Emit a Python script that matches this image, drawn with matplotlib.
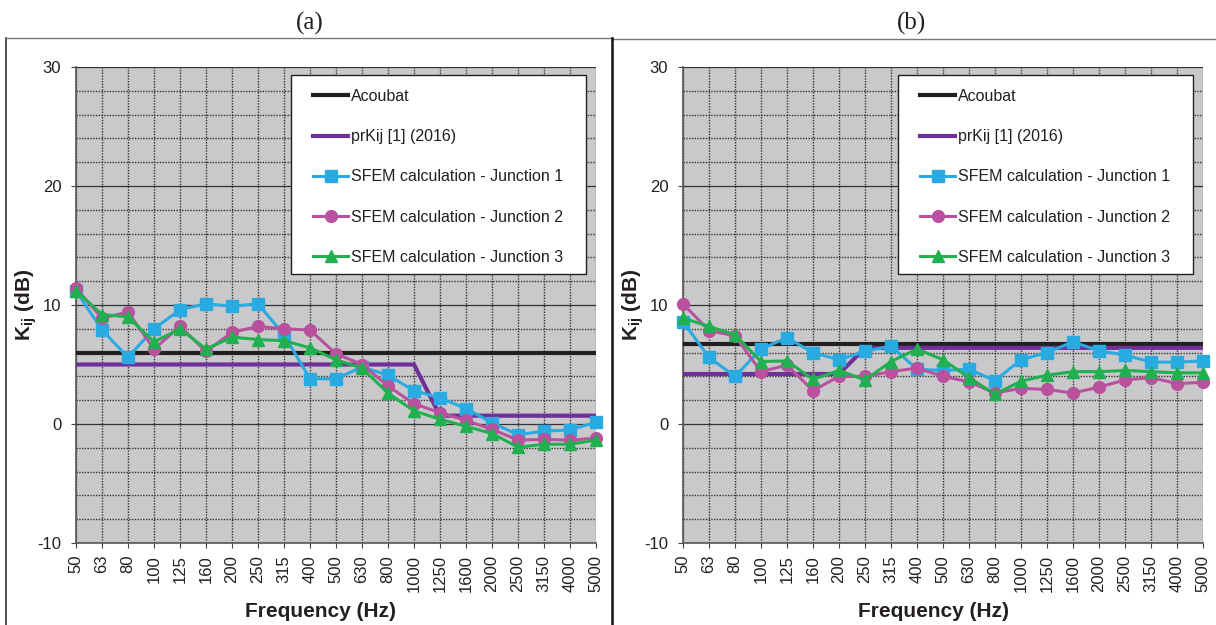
import matplotlib.pyplot as plt
from matplotlib.ticker import MultipleLocator
from matplotlib.lines import Line2D
from matplotlib.patches import Rectangle

plt.rcParams['font.family'] = ['Liberation Sans', 'DejaVu Sans']
plt.rcParams['mathtext.fontset'] = 'custom'
plt.rcParams['mathtext.rm'] = 'Liberation Sans'
plt.rcParams['mathtext.bf'] = 'Liberation Sans:bold'
plt.rcParams['axes.unicode_minus'] = False

# third-octave bands
freqs = ['50', '63', '80', '100', '125', '160', '200', '250', '315', '400', '500',
         '630', '800', '1000', '1250', '1600', '2000', '2500', '3150', '4000', '5000']

# panel (a)
acoubat_a = [6.0] * 21
prkij_a = [5.0] * 14 + [0.7] * 7
j1_a = [11.2, 7.9, 5.6, 8.0, 9.6, 10.1, 9.9, 10.1, 7.5, 3.8, 3.8,
        4.8, 4.1, 2.8, 2.2, 1.3, 0.1, -0.9, -0.6, -0.5, 0.15]
j2_a = [11.4, 8.9, 9.4, 6.3, 8.2, 6.1, 7.7, 8.2, 8.0, 7.9, 5.9,
        5.0, 3.2, 1.7, 0.95, 0.3, -0.45, -1.35, -1.3, -1.35, -1.2]
j3_a = [11.2, 9.2, 9.0, 6.9, 8.0, 6.3, 7.3, 7.1, 7.0, 6.4, 5.4,
        4.7, 2.6, 1.1, 0.4, -0.2, -0.8, -1.95, -1.7, -1.7, -1.35]

# panel (b)
acoubat_b = [6.7] * 21
prkij_b = [4.2] * 7 + [6.4] * 14
j1_b = [8.6, 5.6, 4.0, 6.3, 7.25, 6.0, 5.4, 6.1, 6.55, 4.6, 4.5,
        4.6, 3.65, 5.4, 6.0, 6.9, 6.15, 5.8, 5.2, 5.2, 5.3]
j2_b = [10.1, 7.85, 7.4, 4.4, 4.95, 2.8, 4.0, 4.0, 4.4, 4.7, 4.0,
        3.55, 2.6, 3.0, 2.9, 2.6, 3.1, 3.7, 3.9, 3.4, 3.5]
j3_b = [8.9, 8.2, 7.5, 5.25, 5.3, 3.75, 4.5, 3.7, 5.25, 6.3, 5.4,
        3.9, 2.5, 3.6, 4.1, 4.4, 4.4, 4.5, 4.4, 4.3, 4.3]

W, H = 1216, 625
fig = plt.figure(figsize=(W / 100, H / 100), dpi=100)


def px_rect(x0, y0, x1, y1):
    return [x0 / W, 1 - y1 / H, (x1 - x0) / W, (y1 - y0) / H]


DARK = '#231f20'
C_BLUE = '#29abe2'
C_PINK = '#b9519f'
C_GREEN = '#21b04f'
C_PURPLE = '#6f3198'


def draw_panel(ax, acoubat, prkij, j1, j2, j3, xlabel_x):
    x = list(range(len(freqs)))
    ax.set_facecolor('#c9c9cb')
    ax.plot(x, acoubat, color=DARK, lw=3, label='Acoubat', zorder=3)
    ax.plot(x, prkij, color=C_PURPLE, lw=3, label='prKij [1] (2016)', zorder=3)
    ax.plot(x, j1, color=C_BLUE, lw=2.2, marker='s', ms=8.5,
            label='SFEM calculation - Junction 1', zorder=4, clip_on=False)
    ax.plot(x, j2, color=C_PINK, lw=2.2, marker='o', ms=8.5,
            label='SFEM calculation - Junction 2', zorder=4, clip_on=False)
    ax.plot(x, j3, color=C_GREEN, lw=2.2, marker='^', ms=9,
            label='SFEM calculation - Junction 3', zorder=4, clip_on=False)

    ax.set_xlim(0, len(freqs) - 1)
    ax.set_ylim(-10, 30)
    ax.set_xticks(x)
    ax.set_xticklabels(freqs, rotation=90)
    ax.yaxis.set_major_locator(MultipleLocator(10))
    ax.yaxis.set_minor_locator(MultipleLocator(2))
    ax.tick_params(axis='both', which='major', labelsize=12, length=3.6,
                   color='#444444', labelcolor=DARK)
    ax.tick_params(axis='y', which='major', pad=7)
    ax.tick_params(axis='x', which='major', pad=5)
    ax.tick_params(axis='y', which='minor', length=0)

    ax.set_axisbelow(True)
    ax.grid(axis='x', which='major', ls=(0, (1, 1)), color='#333333', lw=1.0)
    ax.grid(axis='y', which='minor', ls=(0, (1, 1)), color='#333333', lw=1.0)
    ax.grid(axis='y', which='major', ls='-', color='#333333', lw=0.9)

    for side in ('top', 'right'):
        ax.spines[side].set_visible(False)
    for side in ('left', 'bottom'):
        ax.spines[side].set_color('#555555')
        ax.spines[side].set_linewidth(1.2)

    ax.set_xlabel('Frequency (Hz)', fontsize=15, fontweight='bold', color=DARK)
    ax.xaxis.set_label_coords(xlabel_x, -0.124)
    ax.set_ylabel(r'$\mathbf{K_{ij}}$ (dB)', fontsize=15, fontweight='bold', color=DARK)
    ax.yaxis.set_label_coords(-0.072, 0.5)

    # legend box
    box = Rectangle((0.4125, 0.565), 0.568, 0.418, transform=ax.transAxes,
                    facecolor='white', edgecolor=DARK, lw=1.0, zorder=6)
    ax.add_patch(box)
    leg = ax.legend(loc='upper left', bbox_to_anchor=(0.456, 0.954),
                    frameon=False, fontsize=11.5, labelspacing=1.58,
                    handlelength=2.2, handletextpad=0.2, borderpad=0,
                    borderaxespad=0, numpoints=1)
    leg.set_zorder(7)
    for t in leg.get_texts():
        t.set_color(DARK)


ax_a = fig.add_axes(px_rect(76, 67, 596, 543))
ax_b = fig.add_axes(px_rect(683, 67, 1203, 543))
draw_panel(ax_a, acoubat_a, prkij_a, j1_a, j2_a, j3_a, 0.471)
draw_panel(ax_b, acoubat_b, prkij_b, j1_b, j2_b, j3_b, 0.482)

# panel frames
fig.add_artist(Line2D([6 / W, 6 / W], [1 - 38 / H, 0], color='#333333', lw=1.2))
fig.add_artist(Line2D([6 / W, 612 / W], [1 - 38 / H, 1 - 38 / H], color='#777777', lw=1))
fig.add_artist(Line2D([612 / W, 1216 / W], [1 - 39 / H, 1 - 39 / H], color='#777777', lw=1))
fig.add_artist(Line2D([612 / W, 612 / W], [1 - 38 / H, 0], color='#111111', lw=1.8))

fig.text(310 / W, 1 - 23 / H, '(a)', family='Liberation Serif', fontsize=18,
         ha='center', va='center', color=DARK)
fig.text(912 / W, 1 - 23 / H, '(b)', family='Liberation Serif', fontsize=18,
         ha='center', va='center', color=DARK)

fig.savefig('out.png', dpi=100)
